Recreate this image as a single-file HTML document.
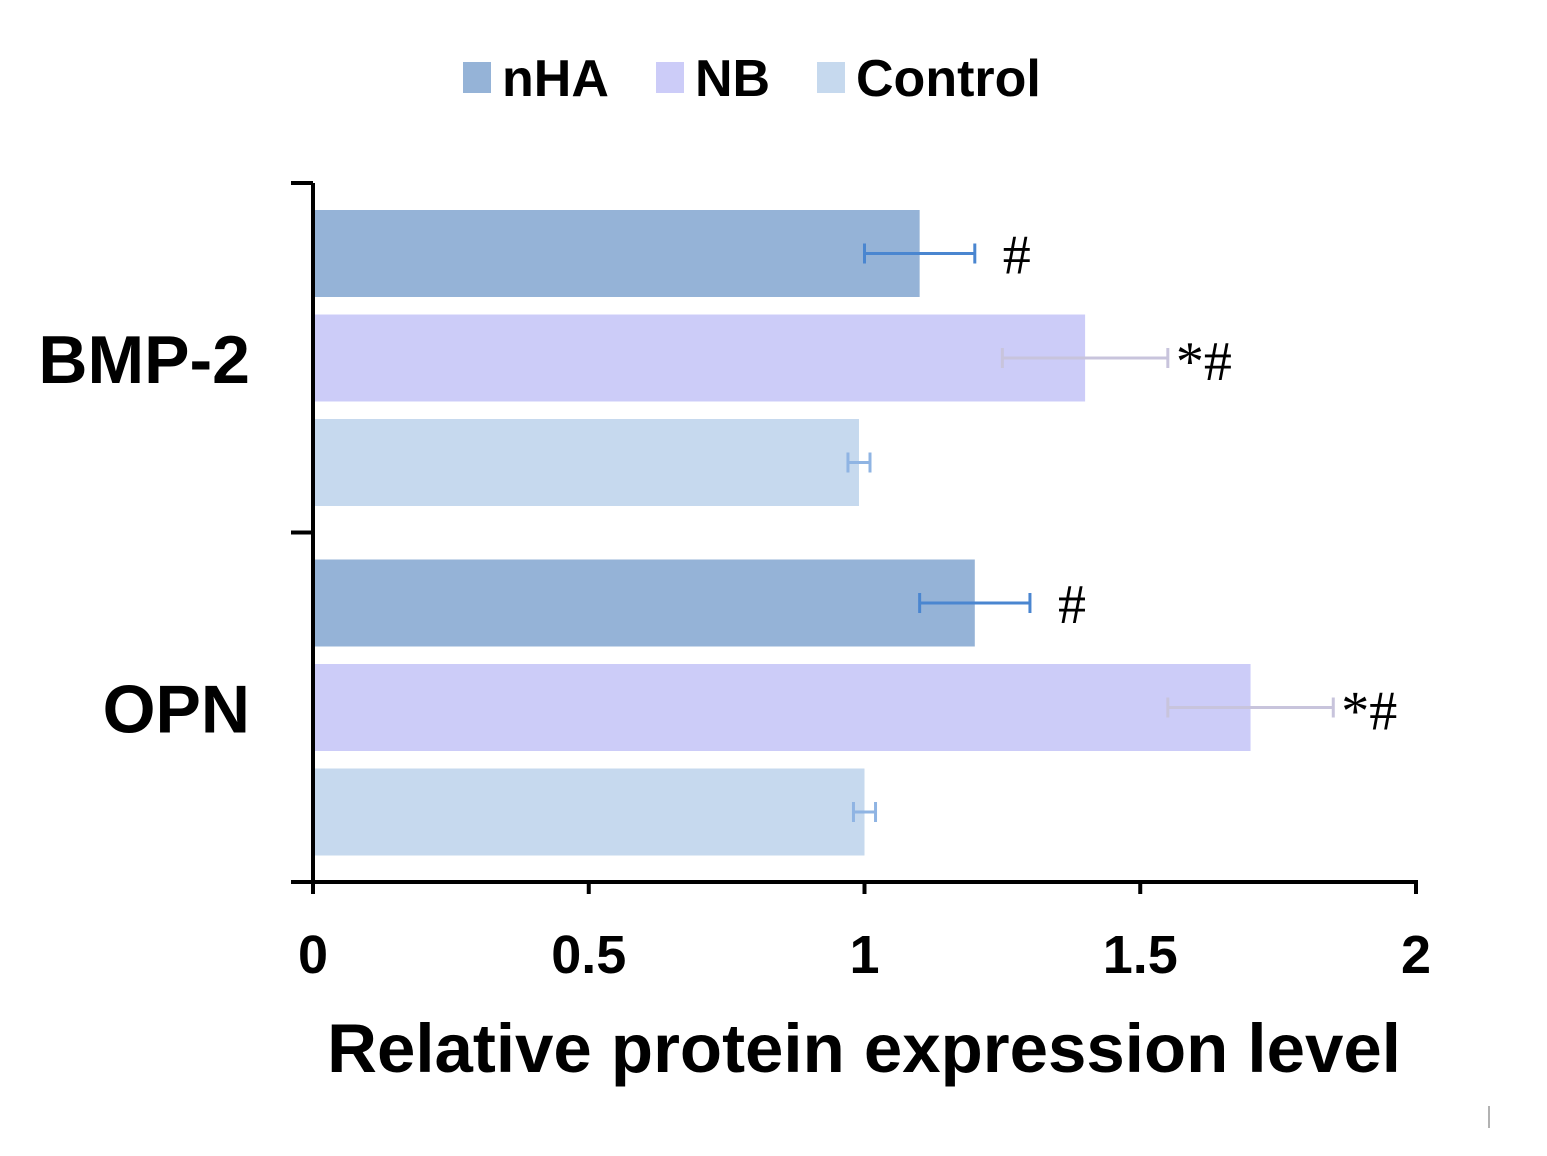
<!DOCTYPE html>
<html><head><meta charset="utf-8"><style>
body{margin:0;background:#fff;}
svg{display:block;font-family:"Liberation Sans",Arial,sans-serif;}
</style></head><body>
<svg id="chart" width="1547" height="1156" viewBox="0 0 1547 1156">
<g id="legend"></g>
<g id="bars"></g>
<g id="axes"></g>
<text x="864" y="1072" text-anchor="middle" font-size="69" font-weight="bold" fill="#000">Relative protein expression level</text>
<line x1="1489" y1="1106" x2="1489" y2="1128" stroke="#999" stroke-width="1.5"/>
</svg>
<script>
const categories = ["BMP-2","OPN"];
const seriesNames = ["nHA","NB","Control"];
const nHA = [1.1, 1.2];
const NB = [1.4, 1.7];
const Control = [0.99, 1.0];
const nHAErr = [0.1, 0.1];
const NBErr = [0.15, 0.15];
const ControlErr = [0.02, 0.02];
const sigLabels = [["#","*#",""],["#","*#",""]];
const xTicks = [0, 0.5, 1, 1.5, 2];
const xTickLabels = ["0","0.5","1","1.5","2"];

const NS="http://www.w3.org/2000/svg";
const fills=["#95b3d7","#ccccf8","#c6d9ee"];
const errColors=["#4a86d0","#c8c4dc","#8fb4e3"];
const X0=313, X1=1416, AXT=183, AXB=882;
function xs(v){return X0+(v-0)/(2-0)*(X1-X0);}
const groupH=(AXB-AXT)/categories.length;
const barH=87, barGap=17.5, groupPad=27;
function el(tag,attrs,parent){const e=document.createElementNS(NS,tag);for(const k in attrs)e.setAttribute(k,attrs[k]);parent.appendChild(e);return e;}
const bars=document.getElementById('bars'), axes=document.getElementById('axes'), legend=document.getElementById('legend');
const vals=[nHA,NB,Control], errs=[nHAErr,NBErr,ControlErr];
categories.forEach((c,ci)=>{
  const gTop=AXT+ci*groupH+groupPad;
  vals.forEach((arr,si)=>{
    const y=gTop+si*(barH+barGap);
    const r=el('rect',{x:X0,y:y,width:xs(arr[ci])-X0,height:barH,fill:fills[si]},bars);
    
    
    const cy=y+barH/2, lo=xs(arr[ci]-errs[si][ci]), hi=xs(arr[ci]+errs[si][ci]);
    const eg=el('g',{stroke:errColors[si],'stroke-width':3},bars);
    
    
    el('line',{x1:lo,y1:cy,x2:hi,y2:cy},eg);
    el('line',{x1:lo,y1:cy-10,x2:lo,y2:cy+10},eg);
    el('line',{x1:hi,y1:cy-10,x2:hi,y2:cy+10},eg);
    const s=sigLabels[ci][si];
    if(s){const t=el('text',{x:hi+(s.length>1?8:28),y:cy+(s.length>1?22:20),'font-size':56,'font-family':'"Liberation Serif",serif',fill:'#000'},bars);t.textContent=s;
      
      }
  });
  const lbl=el('text',{x:250,y:AXT+ci*groupH+groupH/2+25,'text-anchor':'end','font-size':68,'font-weight':'bold',fill:'#000'},axes);
  lbl.textContent=c;
  
  
});
el('line',{x1:X0,y1:AXT,x2:X0,y2:AXB+2,stroke:'#000','stroke-width':4},axes);
el('line',{x1:291,y1:AXB,x2:X1+2,y2:AXB,stroke:'#000','stroke-width':4},axes);
for(let i=0;i<=categories.length;i++){const y=AXT+i*groupH;el('line',{x1:291,y1:y,x2:X0,y2:y,stroke:'#000','stroke-width':4},axes);}
xTicks.forEach((v,i)=>{
  el('line',{x1:xs(v),y1:AXB,x2:xs(v),y2:AXB+12,stroke:'#000','stroke-width':4},axes);
  const t=el('text',{x:xs(v),y:973,'text-anchor':'middle','font-size':54,'font-weight':'bold',fill:'#000'},axes);
  t.textContent=xTickLabels[i];
  
  
});
const lx=[463,656,817];
seriesNames.forEach((n,i)=>{
  const g=el('g',{},legend);
  
  
  el('rect',{x:lx[i],y:62,width:28,height:31,fill:fills[i]},g);
  const t=el('text',{x:lx[i]+39,y:96,'font-size':52,'font-weight':'bold',fill:'#000'},g);
  t.textContent=n;
});
</script>
</body></html>
